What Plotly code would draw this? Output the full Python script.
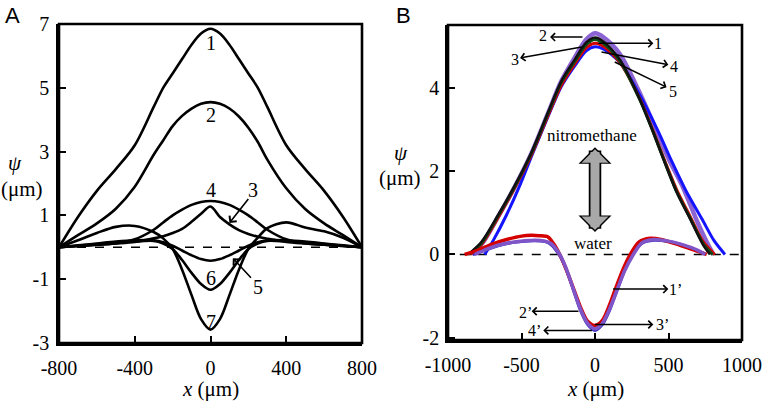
import plotly.graph_objects as go

# ---------------- Panel A data ----------------
xa = [-800, -700, -600, -500, -400, -300, -250, -200, -150, -100, -50, 0,
      50, 100, 150, 200, 250, 300, 400, 500, 600, 700, 800]
a_curve1 = [0, 0.95, 1.77, 2.45, 3.2, 4.4, 5.0, 5.45, 5.9, 6.35, 6.7, 6.85,
            6.7, 6.35, 5.9, 5.45, 5.0, 4.4, 3.2, 2.45, 1.77, 0.95, 0]
a_curve2 = [0, 0.38, 0.75, 1.21, 1.9, 2.9, 3.35, 3.8, 4.12, 4.35, 4.5, 4.55,
            4.5, 4.35, 4.1, 3.75, 3.3, 2.75, 1.85, 1.2, 0.75, 0.38, 0]
a_curve3 = [0, 0.04, 0.08, 0.12, 0.17, 0.28, 0.35, 0.45, 0.58, 0.8, 1.05, 1.28,
            0.95, 0.72, 0.54, 0.42, 0.33, 0.27, 0.17, 0.12, 0.08, 0.04, 0]
a_curve4 = [0, 0.04, 0.08, 0.13, 0.25, 0.55, 0.78, 1.0, 1.18, 1.33, 1.42, 1.45,
            1.42, 1.33, 1.18, 1.0, 0.78, 0.55, 0.25, 0.13, 0.08, 0.04, 0]
a_curve5 = [0, 0.06, 0.12, 0.18, 0.22, 0.22, 0.16, 0.05, -0.1, -0.25, -0.37, -0.42,
            -0.37, -0.25, -0.1, 0.05, 0.16, 0.22, 0.22, 0.18, 0.12, 0.06, 0]
a_curve6 = [0, 0.05, 0.1, 0.14, 0.18, 0.2, 0.12, -0.05, -0.4, -0.8, -1.15, -1.33,
            -1.15, -0.8, -0.4, -0.05, 0.12, 0.2, 0.18, 0.14, 0.1, 0.05, 0]
a_curve7 = [0, 0.22, 0.45, 0.64, 0.67, 0.48, 0.28, -0.05, -0.7, -1.5, -2.25, -2.58,
            -2.25, -1.5, -0.7, -0.05, 0.3, 0.6, 0.78, 0.62, 0.5, 0.3, 0]
a_curves = [a_curve1, a_curve2, a_curve3, a_curve4, a_curve5, a_curve6, a_curve7]
a_names = ["1", "2", "3", "4", "5", "6", "7"]
a_xticks = [-800, -400, 0, 400, 800]
a_xticktext = ["-800", "-400", "0", "400", "800"]
a_yticks = [-3, -1, 1, 3, 5, 7]
a_yticktext = ["-3", "-1", "1", "3", "5", "7"]

# ---------------- Panel B data ----------------
b_nitro_black_x = [-864, -773, -660, -546, -433, -320, -230, -138, -60, 0, 60, 170, 306, 397, 465, 556, 646, 737, 782]
b_nitro_black_y = [0, 0.30, 0.94, 1.65, 2.44, 3.40, 4.15, 4.67, 5.08, 5.20, 5.10, 4.67, 3.71, 2.92, 2.29, 1.49, 0.86, 0.22, 0]
b_nitro_green_x = [-858, -770, -660, -546, -433, -320, -230, -138, -60, 0, 60, 170, 306, 397, 465, 556, 646, 737, 800]
b_nitro_green_y = [0, 0.28, 0.92, 1.63, 2.42, 3.38, 4.12, 4.63, 5.03, 5.15, 5.05, 4.63, 3.70, 2.92, 2.30, 1.50, 0.88, 0.25, 0]
b_nitro_red_x = [-850, -770, -660, -546, -433, -320, -230, -138, -60, 0, 60, 170, 306, 397, 465, 556, 646, 737, 815]
b_nitro_red_y = [0, 0.25, 0.88, 1.60, 2.38, 3.33, 4.05, 4.57, 4.95, 5.06, 4.98, 4.60, 3.72, 2.95, 2.33, 1.55, 0.92, 0.30, 0]
b_nitro_blue_x = [-750, -690, -603, -512, -422, -320, -230, -138, -60, 0, 60, 170, 300, 430, 520, 624, 726, 810, 884]
b_nitro_blue_y = [0, 0.35, 0.94, 1.65, 2.44, 3.30, 4.02, 4.52, 4.88, 4.98, 4.92, 4.60, 3.85, 2.95, 2.25, 1.49, 0.86, 0.33, 0]
b_nitro_purple_x = [-840, -760, -660, -546, -433, -320, -230, -138, -60, 0, 60, 170, 320, 420, 500, 600, 700, 760, 805]
b_nitro_purple_y = [0, 0.30, 0.90, 1.62, 2.42, 3.38, 4.15, 4.72, 5.15, 5.30, 5.20, 4.80, 3.75, 2.95, 2.30, 1.60, 0.75, 0.30, 0]

b_water_red_x = [-887, -800, -700, -600, -500, -433, -380, -320, -280, -240, -200, -150, -100, -50, 0,
                 50, 100, 150, 200, 240, 300, 374, 450, 578, 680, 760]
b_water_red_y = [0, 0.10, 0.25, 0.36, 0.44, 0.46, 0.45, 0.42, 0.25, 0.0, -0.32, -0.78, -1.25, -1.60, -1.70,
                 -1.58, -1.20, -0.72, -0.28, 0.0, 0.30, 0.39, 0.36, 0.22, 0.10, 0]
b_water_purple_x = [-818, -740, -660, -550, -410, -340, -297, -240, -200, -150, -100, -50, 0,
                    50, 100, 150, 200, 261, 320, 400, 500, 600, 700, 750]
b_water_purple_y = [0, 0.12, 0.22, 0.30, 0.34, 0.32, 0.26, 0.0, -0.30, -0.80, -1.30, -1.65, -1.78,
                    -1.65, -1.30, -0.85, -0.40, 0.0, 0.28, 0.36, 0.32, 0.23, 0.10, 0]
b_water_blue_x = [-830, -740, -660, -550, -420, -340, -300, -245, -200, -150, -100, -50, 0,
                  50, 100, 150, 200, 255, 320, 400, 500, 600, 700, 755]
b_water_blue_y = [0, 0.11, 0.21, 0.29, 0.33, 0.31, 0.24, 0.0, -0.32, -0.82, -1.33, -1.68, -1.82,
                  -1.68, -1.33, -0.86, -0.40, 0.0, 0.27, 0.34, 0.31, 0.22, 0.09, 0]
b_xticks = [-1000, -500, 0, 500, 1000]
b_xticktext = ["-1000", "-500", "0", "500", "1000"]
b_yticks = [-2, 0, 2, 4]
b_yticktext = ["-2", "0", "2", "4"]

SERIF = "Liberation Serif"
W, H = 764, 401


def px(xp):
    return xp / W


def py(yp):
    return 1 - yp / H


fig = go.Figure()

# Panel A
fig.add_trace(go.Scatter(x=[a_xticks[0], a_xticks[-1]], y=[0, 0], mode="lines",
                         line=dict(color="black", width=1.5, dash="dash"),
                         xaxis="x", yaxis="y", showlegend=False, hoverinfo="skip"))
for name, ys in zip(a_names, a_curves):
    fig.add_trace(go.Scatter(x=xa, y=ys, mode="lines", name=name,
                             line=dict(color="black", width=2.6, shape="spline", smoothing=0.9),
                             xaxis="x", yaxis="y", showlegend=False))

# Panel B
fig.add_trace(go.Scatter(x=[b_xticks[0] + 80, b_xticks[-1]], y=[0, 0], mode="lines",
                         line=dict(color="black", width=1.5, dash="dash"),
                         xaxis="x2", yaxis="y2", showlegend=False, hoverinfo="skip"))
b_series = [
    (b_nitro_purple_x, b_nitro_purple_y, "#8c63d2", 4.5),
    (b_nitro_blue_x, b_nitro_blue_y, "#1414ff", 3),
    (b_nitro_red_x, b_nitro_red_y, "#d40000", 3),
    (b_nitro_green_x, b_nitro_green_y, "#0b4d16", 3),
    (b_nitro_black_x, b_nitro_black_y, "#111111", 2.5),
    (b_water_blue_x, b_water_blue_y, "#3030c0", 3),
    (b_water_red_x, b_water_red_y, "#d40000", 3.5),
    (b_water_purple_x, b_water_purple_y, "#8055c8", 3.5),
]
for xs, ys, col, w in b_series:
    fig.add_trace(go.Scatter(x=xs, y=ys, mode="lines",
                             line=dict(color=col, width=w, shape="spline", smoothing=0.8),
                             xaxis="x2", yaxis="y2", showlegend=False))

axis_common = dict(showline=True, linewidth=2.6, linecolor="black",
                   ticks="inside", ticklen=7, tickwidth=2, tickcolor="black",
                   showgrid=False, zeroline=False, automargin=False,
                   tickfont=dict(family=SERIF, size=20, color="black"))

fig.update_layout(
    width=W, height=H, margin=dict(l=0, r=0, t=0, b=0, autoexpand=False),
    paper_bgcolor="white", plot_bgcolor="white",
    xaxis=dict(domain=[px(59), px(362)], range=[-800, 800], tickvals=a_xticks, ticktext=a_xticktext,
               anchor="y", ticklabelstandoff=5, **axis_common),
    yaxis=dict(domain=[py(343), py(24)], range=[-3, 7], tickvals=a_yticks, ticktext=a_yticktext,
               anchor="x", ticklabelstandoff=3, **axis_common),
    xaxis2=dict(domain=[px(448), px(742)], range=[-1000, 1000], tickvals=b_xticks, ticktext=b_xticktext,
                anchor="y2", ticklabelstandoff=5, **axis_common),
    yaxis2=dict(domain=[py(340), py(25)], range=[-2.05, 5.5], tickvals=b_yticks, ticktext=b_yticktext,
                anchor="x2", ticklabelstandoff=2, **axis_common),
)

# frames
for xr, yr in [("x", "y"), ("x2", "y2")]:
    fig.add_shape(type="rect", xref=f"{xr} domain", yref=f"{yr} domain",
                  x0=0, x1=1, y0=0, y1=1, line=dict(color="black", width=2.6),
                  fillcolor="rgba(0,0,0,0)", layer="above")

ann = []
# panel letters
for (xx, yy, t) in [(12, 15, "A"), (404, 15, "B")]:
    ann.append(dict(x=px(xx), y=py(yy), xref="paper", yref="paper", text=t, showarrow=False,
                    xanchor="center", yanchor="middle",
                    font=dict(family="Liberation Sans", size=22, color="black")))
# axis titles
for (xx, yy, t) in [(15, 163, "<i>ψ</i>"), (22, 189, "(μm)"), (210, 389, "<i>x</i> (μm)"),
                    (401, 153, "<i>ψ</i>"), (400, 178, "(μm)"), (595, 389, "<i>x</i> (μm)")]:
    ann.append(dict(x=px(xx), y=py(yy), xref="paper", yref="paper", text=t, showarrow=False,
                    xanchor="center", yanchor="middle",
                    font=dict(family=SERIF, size=21, color="black")))

# Panel A curve labels
a_labels = [("1", 0, 6.4), ("2", 0, 4.15), ("4", 0, 1.8), ("3", 227, 1.8),
            ("6", 0, -0.97), ("7", 0, -2.33), ("5", 250, -1.25)]
for t, xx, yy in a_labels:
    ann.append(dict(x=xx, y=yy, xref="x", yref="y", text=t, showarrow=False,
                    font=dict(family=SERIF, size=20, color="black")))
a_arrows = [((206, 1.56), (100, 0.76)), ((221, -1.0), (118, -0.34))]
for (tx, ty), (hx, hy) in a_arrows:
    ann.append(dict(x=hx, y=hy, ax=tx, ay=ty, xref="x", yref="y", axref="x", ayref="y",
                    text="", showarrow=True, arrowhead=4, arrowsize=1.1, arrowwidth=1.6,
                    arrowcolor="black", standoff=0, startstandoff=0))

# Panel B arrows and labels
b_arrows = [
    ("2", (-75, 5.21), (-306, 5.21), (-354, 5.24)),
    ("1", (12, 5.06), (397, 5.06), (430, 5.06)),
    ("3", (-80, 4.98), (-510, 4.71), (-544, 4.67)),
    ("4", (34, 4.86), (499, 4.55), (537, 4.51)),
    ("5", (124, 4.63), (487, 4.01), (530, 3.91)),
    ("1’", (113, -0.83), (499, -0.83), (548, -0.85)),
    ("2’", (-102, -1.36), (-431, -1.36), (-476, -1.40)),
    ("3’", (-11, -1.68), (397, -1.68), (456, -1.68)),
    ("4’", (-11, -1.82), (-352, -1.82), (-410, -1.83)),
]
for t, (tx, ty), (hx, hy), (lx, ly) in b_arrows:
    ann.append(dict(x=hx, y=hy, ax=tx, ay=ty, xref="x2", yref="y2", axref="x2", ayref="y2",
                    text="", showarrow=True, arrowhead=4, arrowsize=1.0, arrowwidth=1.5,
                    arrowcolor="black", standoff=0, startstandoff=0))
    ann.append(dict(x=lx, y=ly, xref="x2", yref="y2", text=t, showarrow=False,
                    font=dict(family=SERIF, size=16, color="black")))

ann.append(dict(x=-22, y=2.86, xref="x2", yref="y2", text="nitromethane", showarrow=False,
                font=dict(family=SERIF, size=17, color="black")))
ann.append(dict(x=-11, y=0.26, xref="x2", yref="y2", text="water", showarrow=False,
                font=dict(family=SERIF, size=17, color="black")))

# big double-headed gray arrow (outline then fill)
for (top, bot, col, w, s) in [(2.57, 0.50, "black", 12.5, 0.44), (2.52, 0.55, "#a8a8a8", 9, 0.5)]:
    ann.append(dict(x=0, y=top, ax=0, ay=bot, xref="x2", yref="y2", axref="x2", ayref="y2",
                    text="", showarrow=True, arrowhead=1, startarrowhead=1, arrowside="end+start",
                    arrowsize=s, startarrowsize=s, arrowwidth=w,
                    arrowcolor=col, standoff=0, startstandoff=0))

fig.update_layout(annotations=ann)
fig.write_html("out.html", config={"displayModeBar": False},
               post_script="document.body.style.margin='0';document.body.style.padding='0';")
